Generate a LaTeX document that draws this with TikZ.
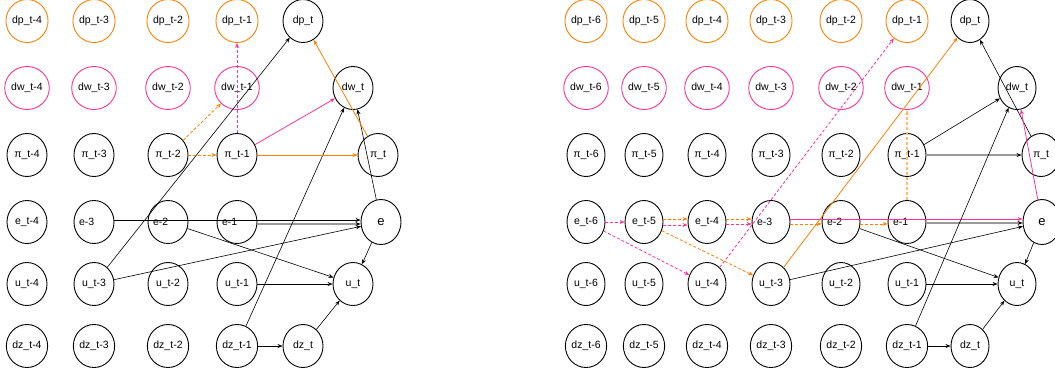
\documentclass[tikz,border=0pt]{standalone}
\usepackage{fontspec}
\setmainfont{Liberation Sans}
\usetikzlibrary{shapes.geometric, arrows.meta}
\definecolor{lagorange}{HTML}{FF8000}
\definecolor{lagpink}{HTML}{FF3399}

\begin{document}
\begin{tikzpicture}[x=1pt, y=-1pt, every node/.style={font=\fontsize{10.5}{12}\selectfont},
  var/.style={ellipse, draw, line width=0.9pt, minimum width=40, minimum height=43, inner sep=0pt},
  rvar/.style={var, minimum width=38},
  dpvar/.style={draw=lagorange}, dwvar/.style={draw=lagpink},
  elag/.style={label={[anchor=west, xshift=2]west:#1}},
  tip/.style={-{Stealth[length=5pt, width=4pt, black]}},
  link/.style={tip, line width=0.6pt},
  glink/.style={tip, draw=gray!80, line width=1.6pt},
  olink/.style={-{Stealth[length=5pt, width=4pt]}, draw=lagorange, line width=0.8pt},
  plink/.style={-{Stealth[length=5pt, width=4pt]}, draw=lagpink, line width=0.8pt},
  odash/.style={olink, dash pattern=on 3pt off 2pt},
  pdash/.style={plink, dash pattern=on 3pt off 2pt},
  othick/.style={odash, draw=lagorange!55, line width=1.8pt}]
  \useasboundingbox (0,0) rectangle (1055,375);

  \foreach \x/\k in {27/4, 94/3, 168/2, 237/1} {
    \node[var, dpvar] (l-dp-\k) at (\x,21) {dp\_t-\k};
    \node[var, dwvar] (l-dw-\k) at (\x,88) {dw\_t-\k};
    \node[var] (l-pi-\k) at (\x,155) {π\_t-\k};
    \node[var] (l-u-\k) at (\x,284) {u\_t-\k};
    \node[var] (l-dz-\k) at (\x,346) {dz\_t-\k};
  }
  \node[var] (l-e-4) at (27,222) {e\_t-4};
  \foreach \x/\k in {94/3, 168/2, 237/1}
    \node[var, elag=e-\k] (l-e-\k) at (\x,222) {};
  \node[var] (l-dp) at (303,21) {dp\_t};
  \node[var] (l-dw) at (353,88) {dw\_t};
  \node[var] (l-pi) at (378,155) {π\_t};
  \node[var, minimum height=45, font=\fontsize{13}{15}\selectfont] (l-e) at (381,222) {e};
  \node[var] (l-u) at (353,284) {u\_t};
  \node[var] (l-dz) at (303,346) {dz\_t};

  \draw[link] (l-u-3) -- (l-dp);
  \draw[link] (l-u-3) -- (l-e);
  \draw[link] ([yshift=2]l-e-3.east) -- ([yshift=2]l-e.west);
  \draw[glink] ([yshift=-2]l-e-1.east) -- ([yshift=-2]l-e.west);
  \draw[link] (l-e-2) -- (l-u);
  \draw[link] (l-u-1) -- (l-u);
  \draw[link] (l-dz-1) -- (l-dz);
  \draw[link] (l-dz) -- (l-u);
  \draw[link] (l-e) -- (l-u);
  \draw[link] (l-dz-1) -- (l-dw);
  \draw[link] (l-e) -- (l-dw);
  \draw[olink] (l-pi-1) -- (l-pi);
  \draw[olink] (l-pi) -- (l-dp);
  \draw[odash] (l-pi-2) -- (l-pi-1);
  \draw[odash] (l-pi-2) -- (l-dw-1);
  \draw[pdash] (l-pi-1) -- (l-dp-1);
  \draw[plink] (l-pi-1) -- (l-dw);

  \foreach \x/\k in {586/6, 644/5, 707/4, 771/3, 841/2, 907/1} {
    \node[rvar, dpvar] (r-dp-\k) at (\x,21) {dp\_t-\k};
    \node[rvar, dwvar] (r-dw-\k) at (\x,88) {dw\_t-\k};
    \node[rvar] (r-pi-\k) at (\x,155) {π\_t-\k};
    \node[rvar] (r-u-\k) at (\x,284) {u\_t-\k};
    \node[rvar] (r-dz-\k) at (\x,346) {dz\_t-\k};
  }
  \foreach \x/\k in {586/6, 644/5, 707/4}
    \node[rvar] (r-e-\k) at (\x,222) {e\_t-\k};
  \foreach \x/\k in {771/3, 841/2, 907/1}
    \node[rvar, elag=e-\k] (r-e-\k) at (\x,222) {};
  \node[rvar] (r-dp) at (970,21) {dp\_t};
  \node[rvar] (r-dw) at (1017,88) {dw\_t};
  \node[rvar] (r-pi) at (1041,155) {π\_t};
  \node[rvar, minimum height=45, font=\fontsize{13}{15}\selectfont] (r-e) at (1042,222) {e};
  \node[rvar] (r-u) at (1017,284) {u\_t};
  \node[rvar] (r-dz) at (970,346) {dz\_t};

  \draw[pdash] (r-e-6) -- (r-e-5);
  \draw[odash] ([yshift=3]r-e-5.east) -- ([yshift=3]r-e-4.west);
  \draw[pdash] ([yshift=-3]r-e-5.east) -- ([yshift=-3]r-e-4.west);
  \draw[odash] ([yshift=3]r-e-4.east) -- ([yshift=3]r-e-3.west);
  \draw[pdash] ([yshift=-2]r-e-4.east) -- ([yshift=-2]r-e-3.west);
  \draw[odash] ([yshift=-2]r-e-3.east) -- ([yshift=-2]r-e-2.west);
  \draw[odash] ([yshift=-2]r-e-2.east) -- ([yshift=-2]r-e-1.west);
  \draw[plink] ([yshift=3]r-e-3.east) -- ([yshift=3]r-e.west);
  \draw[glink] ([yshift=-1]r-e-1.east) -- ([yshift=-1]r-e.west);
  \draw[pdash] (r-e-6) -- (r-u-4);
  \draw[odash] (r-e-5) -- (r-u-3);
  \draw[pdash] (r-u-4) -- (r-dp-1);
  \draw[olink] (r-u-3) -- (r-dp);
  \draw[othick] (r-e-1) -- (r-dw-1);
  \draw[glink] (r-pi-1) -- (r-pi);
  \draw[link] (r-pi-1) -- (r-dw);
  \draw[link] (r-pi) -- (r-dp);
  \draw[plink] (r-e) -- (r-dw);
  \draw[link] (r-dz-1) -- (r-dw);
  \draw[link] (r-e-2) -- (r-u);
  \draw[link] (r-u-3) -- (r-e);
  \draw[link] (r-u-1) -- (r-u);
  \draw[link] (r-dz-1) -- (r-dz);
  \draw[link] (r-dz) -- (r-u);
  \draw[link] (r-e) -- (r-u);
\end{tikzpicture}
\end{document}
